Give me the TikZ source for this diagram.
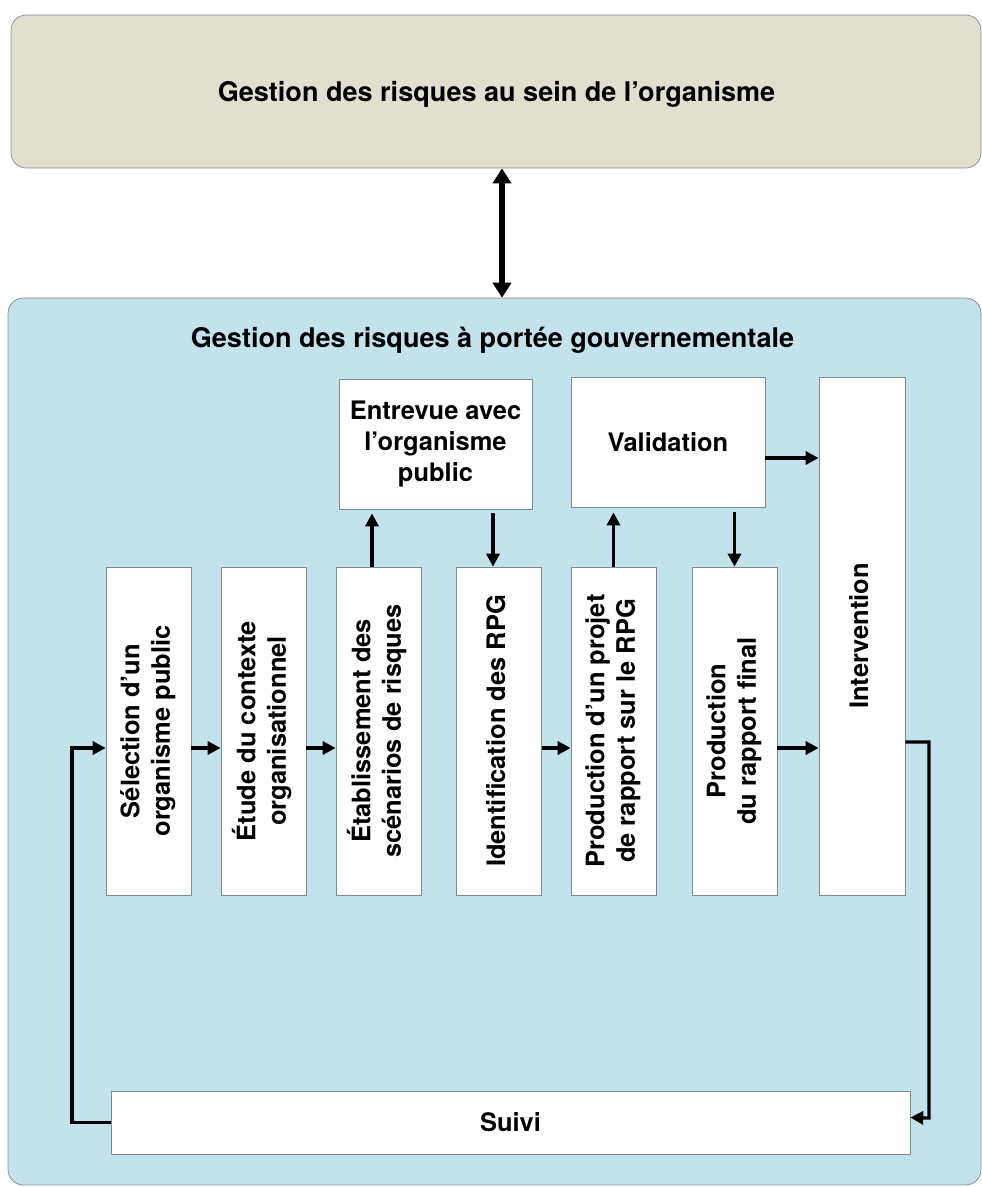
\documentclass[tikz,border=0pt]{standalone}
\usepackage{fontspec}
\setmainfont{TeX Gyre Heros}
\usetikzlibrary{positioning, arrows.meta}
\definecolor{orgfill}{HTML}{E1E0CF}
\definecolor{govfill}{HTML}{C3E3EC}
\definecolor{edgegray}{HTML}{7E8A92}
\newcommand{\vtxt}[1]{\rotatebox{90}{\begin{tabular}{@{}c@{}}#1\end{tabular}}}
\renewcommand{\arraystretch}{1}

\begin{document}
\begin{tikzpicture}[
x=0.02cm, y=-0.02cm,
zone/.style={rectangle, rounded corners=0.3cm, draw=edgegray, thin, inner sep=0},
titre/.style={font=\fontsize{15.4}{18}\selectfont\bfseries},
etape/.style={rectangle, draw=edgegray, thin, fill=white, align=center, inner sep=0},
colonne/.style={etape, minimum width=1.7cm, minimum height=6.56cm},
fleche/.style={line width=0.066cm, -{Triangle[width=0.26cm, length=0.26cm]}},
double fleche/.style={line width=0.11cm, {Triangle[width=0.36cm, length=0.3cm]}-{Triangle[width=0.36cm, length=0.3cm]}},
every node/.style={font=\fontsize{14.5}{17.4}\selectfont\bfseries}
]
\useasboundingbox (0,0) rectangle (982,1187);

%Zones
\node[zone, fill=orgfill, minimum width=19.4cm, minimum height=3.06cm] (org) at (496,91.5) {};
\node[titre] (orgtitre) at (496.5,94) {Gestion des risques au sein de l’organisme};
\node[zone, fill=govfill, minimum width=19.46cm, minimum height=17.74cm] (gov) at (494.5,741.5) {};
\node[titre] (govtitre) at (492.5,340) {Gestion des risques à portée gouvernementale};

%Etapes
\node[colonne] (sel) at (148.5,731) {\vtxt{Sélection d’un\\organisme public}};
\node[colonne] (etu) at (263.5,731) {\vtxt{Étude du contexte\\organisationnel}};
\node[colonne] (eta) at (378.5,731) {\vtxt{Établissement des\\scénarios de risques}};
\node[colonne] (ide) at (499,731) {\vtxt{Identification des RPG}};
\node[colonne] (pro) at (613.5,731) {\vtxt{Production d’un projet\\de rapport sur le RPG}};
\node[colonne] (fin) at (734.5,731) {\vtxt{Production\\du rapport final}};
\node[etape, minimum width=1.72cm, minimum height=10.36cm] (int) at (862,636) {\vtxt{Intervention}};
\node[etape, minimum width=3.86cm, minimum height=2.6cm] (ent) at (435.5,444) {Entrevue avec\\l’organisme\\public};
\node[etape, minimum width=3.88cm, minimum height=2.6cm] (val) at (668,442) {Validation};
\node[etape, minimum width=15.98cm, minimum height=1.26cm] (sui) at (510.5,1122.5) {Suivi};

\coordinate (rang) at (0,748);

%Liens
\draw[double fleche] ([xshift=0.12cm]org.south) -- ([xshift=0.12cm]org.south |- gov.north);
\foreach \i/\j in {sel/etu, etu/eta, ide/pro, fin/int}
  \draw[fleche] (\i.east |- rang) -- (\j.west |- rang);
\draw[fleche] ([xshift=-0.13cm]eta.north) -- ([xshift=-0.13cm,yshift=-0.08cm]eta.north |- ent.south);
\draw[fleche] ([xshift=-0.12cm,yshift=-0.08cm]ide.north |- ent.south) -- ([xshift=-0.12cm]ide.north);
\draw[fleche] (pro.north) -- ([yshift=-0.1cm]pro.north |- val.south);
\draw[fleche] ([yshift=-0.1cm]fin.north |- val.south) -- (fin.north);
\draw[fleche] ([yshift=-0.32cm]val.east) -- ([yshift=-0.32cm]val.east -| int.west);
\draw[fleche] ([yshift=0.12cm]int.east |- rang) -| (929,1118) -- ([yshift=0.1cm]sui.east);
\draw[fleche] (sui.west) -| (72,748) -- (sel.west |- rang);
\end{tikzpicture}
\end{document}
